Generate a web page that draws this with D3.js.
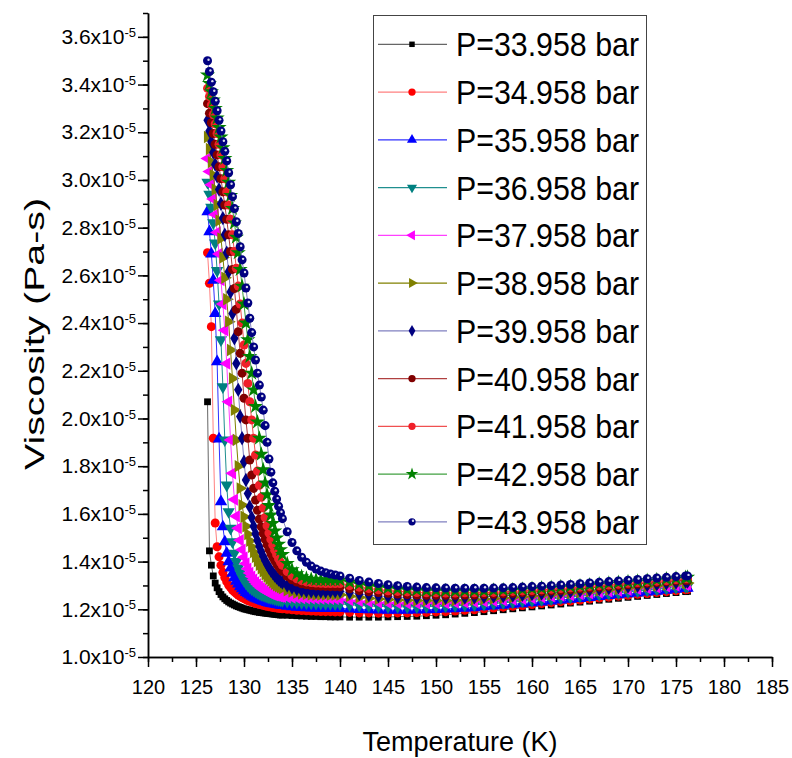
<!DOCTYPE html>
<html><head><meta charset="utf-8">
<script src="https://cdn.jsdelivr.net/npm/d3@7"></script>
<style>body{margin:0;background:#fff}svg{display:block}text{font-family:"Liberation Sans",Arial,sans-serif;fill:#000}</style>
</head><body><svg id="c" width="792" height="758"></svg>
<script>
// ---------- data (viscosity in units of 1e-5 Pa-s) ----------
const temps = [126.2,126.4,126.6,126.8,127.0,127.2,127.4,127.6,127.8,128.0,
128.2,128.4,128.6,128.8,129.0,129.2,129.4,129.6,129.8,130.0,
130.2,130.4,130.6,130.8,131.0,131.2,131.4,131.6,131.8,132.0,
132.2,132.4,132.6,132.8,133.0,133.2,133.4,133.6,133.8,134.0,
134.5,135,135.5,136,136.5,137,137.5,138,138.5,139,139.5,140,
141,142,143,144,145,146,147,148,149,150,
151,152,153,154,155,156,157,158,159,160,
161,162,163,164,165,166,167,168,169,170,
171,172,173,174,175,176,176.2];

const labels = ["P=33.958 bar","P=34.958 bar","P=35.958 bar","P=36.958 bar","P=37.958 bar","P=38.958 bar","P=39.958 bar","P=40.958 bar","P=41.958 bar","P=42.958 bar","P=43.958 bar"];

const mu33958 = [2.07,1.445,1.385,1.34,1.31,1.29,1.274,1.262,1.252,1.244,
1.237,1.231,1.226,1.222,1.218,1.214,1.211,1.208,1.205,1.202,
1.2,1.198,1.196,1.194,1.192,1.19,1.189,1.187,1.186,1.185,
1.184,1.183,1.182,1.181,1.18,1.179,1.178,1.177,1.176,1.176,
1.175,1.174,1.173,1.172,1.171,1.17,1.17,1.169,1.169,1.168,1.168,1.168,
1.167,1.167,1.167,1.167,1.168,1.169,1.17,1.171,1.173,1.175,
1.177,1.18,1.183,1.186,1.19,1.194,1.198,1.202,1.206,1.21,
1.214,1.218,1.222,1.226,1.23,1.234,1.238,1.242,1.246,1.25,
1.254,1.258,1.262,1.266,1.27,1.274,1.275];

const mu34958 = [2.695,2.567,2.385,1.917,1.562,1.462,1.42,1.385,1.355,1.333,
1.316,1.302,1.291,1.281,1.273,1.266,1.26,1.254,1.249,1.245,
1.241,1.237,1.234,1.231,1.228,1.225,1.223,1.221,1.219,1.217,
1.215,1.213,1.211,1.21,1.208,1.207,1.206,1.204,1.203,1.202,
1.2,1.198,1.196,1.195,1.194,1.193,1.192,1.191,1.19,1.19,1.189,1.189,
1.187,1.185,1.185,1.184,1.184,1.185,1.185,1.186,1.187,1.189,
1.19,1.193,1.196,1.198,1.202,1.205,1.209,1.213,1.216,1.22,
1.224,1.228,1.232,1.235,1.239,1.243,1.247,1.251,1.255,1.259,
1.263,1.266,1.27,1.274,1.278,1.282,1.283];

const mu35958 = [2.867,2.783,2.69,2.58,2.44,2.238,1.914,1.651,1.546,1.483,
1.435,1.40,1.373,1.351,1.333,1.318,1.306,1.295,1.286,1.278,
1.271,1.265,1.26,1.255,1.251,1.247,1.243,1.24,1.237,1.234,
1.232,1.229,1.227,1.225,1.223,1.222,1.22,1.219,1.217,1.216,
1.213,1.211,1.209,1.208,1.207,1.206,1.205,1.205,1.204,1.204,1.204,1.204,
1.201,1.199,1.198,1.197,1.196,1.196,1.196,1.197,1.198,1.199,
1.201,1.203,1.205,1.207,1.211,1.214,1.217,1.221,1.224,1.228,
1.231,1.235,1.239,1.242,1.246,1.25,1.254,1.258,1.261,1.265,
1.269,1.273,1.276,1.28,1.284,1.288,1.289];

const mu36958 = [2.99,2.94,2.885,2.82,2.735,2.62,2.48,2.33,2.133,1.91,
1.721,1.609,1.539,1.483,1.435,1.40,1.373,1.352,1.335,1.321,
1.31,1.30,1.292,1.286,1.28,1.275,1.27,1.266,1.262,1.259,
1.256,1.253,1.25,1.248,1.246,1.244,1.242,1.24,1.238,1.236,
1.233,1.231,1.229,1.228,1.227,1.226,1.225,1.225,1.224,1.224,1.223,1.223,
1.219,1.216,1.214,1.212,1.211,1.211,1.21,1.21,1.211,1.212,
1.213,1.215,1.217,1.219,1.221,1.224,1.227,1.23,1.234,1.237,
1.241,1.244,1.248,1.251,1.255,1.258,1.262,1.266,1.269,1.273,
1.277,1.28,1.284,1.288,1.291,1.295,1.296];

const mu37958 = [3.09,3.035,2.98,2.92,2.855,2.78,2.69,2.58,2.48,2.37,
2.23,2.07,1.91,1.77,1.66,1.59,1.54,1.49,1.45,1.418,
1.392,1.37,1.352,1.337,1.324,1.313,1.304,1.296,1.289,1.283,
1.278,1.273,1.269,1.265,1.262,1.259,1.257,1.255,1.253,1.252,
1.25,1.249,1.248,1.247,1.246,1.246,1.245,1.245,1.245,1.244,1.244,1.244,
1.239,1.235,1.232,1.229,1.227,1.226,1.225,1.225,1.225,1.226,
1.226,1.228,1.229,1.231,1.233,1.236,1.238,1.241,1.244,1.247,
1.251,1.254,1.257,1.26,1.264,1.267,1.271,1.275,1.278,1.282,
1.285,1.289,1.292,1.296,1.299,1.303,1.304];

const mu38958 = [3.18,3.13,3.075,3.02,2.96,2.895,2.83,2.755,2.675,2.59,
2.50,2.406,2.287,2.168,2.036,1.91,1.80,1.707,1.637,1.588,
1.548,1.515,1.487,1.462,1.44,1.42,1.402,1.386,1.372,1.359,
1.347,1.337,1.328,1.32,1.313,1.307,1.301,1.296,1.292,1.288,
1.28,1.274,1.269,1.266,1.264,1.262,1.261,1.261,1.261,1.261,1.261,1.261,
1.255,1.25,1.246,1.243,1.241,1.239,1.238,1.237,1.237,1.237,
1.237,1.238,1.24,1.241,1.243,1.245,1.248,1.25,1.253,1.256,
1.259,1.262,1.265,1.268,1.272,1.275,1.279,1.282,1.285,1.289,
1.292,1.296,1.299,1.303,1.306,1.31,1.31];

const mu39958 = [3.25,3.205,3.16,3.115,3.065,3.015,2.96,2.90,2.84,2.77,
2.695,2.615,2.53,2.44,2.336,2.231,2.12,2.008,1.917,1.819,
1.742,1.685,1.63,1.585,1.548,1.517,1.488,1.463,1.441,1.421,
1.404,1.389,1.375,1.363,1.352,1.342,1.333,1.325,1.318,1.312,
1.30,1.291,1.285,1.28,1.277,1.275,1.274,1.274,1.274,1.275,1.275,1.276,
1.27,1.264,1.26,1.256,1.253,1.251,1.249,1.248,1.247,1.247,
1.248,1.248,1.249,1.25,1.252,1.254,1.256,1.258,1.261,1.264,
1.266,1.269,1.272,1.275,1.279,1.282,1.285,1.289,1.292,1.295,
1.299,1.302,1.305,1.309,1.312,1.316,1.316];

const mu40958 = [3.32,3.28,3.24,3.195,3.15,3.105,3.055,3.005,2.95,2.895,
2.835,2.77,2.70,2.625,2.545,2.458,2.364,2.273,2.19,2.085,
1.994,1.917,1.826,1.763,1.707,1.658,1.615,1.578,1.546,1.518,
1.493,1.471,1.451,1.433,1.417,1.403,1.39,1.378,1.368,1.358,
1.338,1.324,1.314,1.307,1.303,1.30,1.298,1.297,1.296,1.295,1.295,1.294,
1.286,1.279,1.274,1.27,1.267,1.264,1.262,1.26,1.259,1.259,
1.259,1.259,1.26,1.26,1.262,1.263,1.265,1.267,1.27,1.272,
1.275,1.277,1.28,1.283,1.286,1.289,1.293,1.296,1.299,1.303,
1.306,1.309,1.312,1.316,1.319,1.322,1.322];

const mu41958 = [3.384,3.35,3.315,3.275,3.235,3.195,3.15,3.105,3.055,3.005,
2.95,2.895,2.835,2.77,2.70,2.63,2.555,2.48,2.40,2.308,
2.231,2.147,2.07,1.994,1.917,1.847,1.78,1.72,1.67,1.625,
1.585,1.55,1.52,1.493,1.469,1.448,1.429,1.412,1.397,1.384,
1.358,1.34,1.328,1.32,1.315,1.312,1.31,1.309,1.308,1.308,1.308,1.308,
1.30,1.293,1.287,1.282,1.278,1.275,1.273,1.27,1.269,1.269,
1.268,1.268,1.269,1.269,1.27,1.271,1.273,1.275,1.277,1.279,
1.282,1.284,1.287,1.29,1.293,1.296,1.299,1.302,1.305,1.309,
1.312,1.315,1.318,1.321,1.325,1.328,1.328];

const mu42958 = [3.44,3.405,3.37,3.335,3.30,3.26,3.22,3.18,3.135,3.09,
3.04,2.99,2.935,2.88,2.82,2.76,2.695,2.625,2.555,2.48,
2.40,2.33,2.26,2.19,2.12,2.05,1.985,1.917,1.85,1.785,
1.73,1.68,1.635,1.595,1.56,1.528,1.499,1.473,1.45,1.43,
1.392,1.366,1.349,1.337,1.33,1.326,1.324,1.323,1.323,1.323,1.323,1.323,
1.314,1.306,1.299,1.294,1.29,1.286,1.283,1.281,1.279,1.279,
1.278,1.277,1.278,1.278,1.278,1.28,1.281,1.282,1.284,1.287,
1.289,1.291,1.294,1.296,1.299,1.302,1.306,1.309,1.312,1.315,
1.318,1.321,1.324,1.327,1.33,1.333,1.334];

const mu43958 = [3.50,3.455,3.41,3.37,3.33,3.29,3.25,3.205,3.16,3.12,
3.08,3.03,2.98,2.93,2.88,2.825,2.776,2.72,2.665,2.61,
2.547,2.484,2.42,2.36,2.30,2.245,2.19,2.14,2.09,2.035,
1.97,1.90,1.83,1.775,1.73,1.695,1.662,1.632,1.605,1.58,
1.525,1.48,1.445,1.418,1.397,1.381,1.369,1.36,1.353,1.348,1.344,1.34,
1.33,1.321,1.314,1.308,1.303,1.299,1.296,1.293,1.291,1.29,
1.289,1.288,1.288,1.288,1.288,1.289,1.29,1.291,1.293,1.295,
1.297,1.299,1.302,1.304,1.307,1.31,1.313,1.316,1.319,1.322,
1.325,1.328,1.331,1.334,1.337,1.34,1.34];

const xTicks = [120,125,130,135,140,145,150,155,160,165,170,175,180,185];
const yTicks = [1.0,1.2,1.4,1.6,1.8,2.0,2.2,2.4,2.6,2.8,3.0,3.2,3.4,3.6];

const seriesValues = [mu33958,mu34958,mu35958,mu36958,mu37958,mu38958,mu39958,mu40958,mu41958,mu42958,mu43958];
const colors = ["#000000","#FF0000","#0000FF","#008080","#FF00FF","#808000","#000080","#800000","#F0202A","#008000","#000080"];
const lineColors = ["#666666","#FF8080","#3030FF","#208F8F","#FF40FF","#808000","#8080C0","#B04040","#F05050","#40A040","#8080C0"];
const shapes = ["square","circle","triUp","triDown","triLeft","triRight","diamond","circle","circle","star","sphere"];

// ---------- drawing ----------
const svg = d3.select("#c");
const x = d3.scaleLinear().domain([120,185]).range([148,772]);
const y = d3.scaleLinear().domain([1.0,3.7]).range([657,13]);

const symDef = {
  square:[d3.symbolSquare,46,0], circle:[d3.symbolCircle,64,0],
  triUp:[d3.symbolTriangle,66,0], triDown:[d3.symbolTriangle,66,180],
  triLeft:[d3.symbolTriangle,66,-90], triRight:[d3.symbolTriangle,66,90],
  diamond:[d3.symbolDiamond,60,0], star:[d3.symbolStar,72,0], sphere:[d3.symbolCircle,64,0]
};
const legSym = {square:30,circle:42,triUp:44,triDown:44,triLeft:44,triRight:44,diamond:40,star:50,sphere:42};

function drawMarker(sel, i, legend){
  const [t,s,r] = symDef[shapes[i]];
  const size = legend ? legSym[shapes[i]] : s;
  sel.append("path").attr("d", d3.symbol().type(t).size(size)()).attr("transform", `rotate(${r})`).attr("fill", colors[i]);
  if (shapes[i]==="sphere") sel.append("circle").attr("cx",1).attr("cy",-1).attr("r",1.2).attr("fill","#fff").attr("opacity",0.85);
}

const plot = svg.append("g");
const line = d3.line().x(d=>x(d[0])).y(d=>y(d[1]));
seriesValues.forEach((vals,i)=>{
  const data = temps.map((t,j)=>[t, vals[j]]);
  const g = plot.append("g");
  g.append("path").datum(data).attr("d", line).attr("fill","none").attr("stroke", lineColors[i]).attr("stroke-width",1);
  g.selectAll("g.m").data(data).join("g").attr("class","m")
    .attr("transform", d=>`translate(${x(d[0])},${y(d[1])})`)
    .each(function(){ drawMarker(d3.select(this), i, false); });
});

// axes
const axisG = svg.append("g");
const xMinor = d3.range(120,185.01,2.5);
const yMinor = d3.range(1.0,3.701,0.1);
axisG.append("g").attr("transform","translate(0,657)")
  .call(d3.axisBottom(x).tickValues(xMinor).tickSize(5).tickSizeOuter(0).tickFormat(""));
axisG.append("g").attr("transform","translate(0,657)")
  .call(d3.axisBottom(x).tickValues(xTicks).tickSize(10).tickSizeOuter(0).tickPadding(13).tickFormat(d3.format("d")))
  .call(g=>g.selectAll("text").attr("font-size",20).attr("font-family","Liberation Sans, Arial, sans-serif"));
axisG.append("g").attr("transform","translate(148,0)")
  .call(d3.axisLeft(y).tickValues(yMinor).tickSize(5).tickSizeOuter(0).tickFormat(""));
const yAx = axisG.append("g").attr("transform","translate(148,0)")
  .call(d3.axisLeft(y).tickValues(yTicks).tickSize(10).tickSizeOuter(0).tickPadding(2).tickFormat(d=>d.toFixed(1)+"x10"));
yAx.selectAll("text").attr("font-size",21).attr("font-family","Liberation Sans, Arial, sans-serif")
  .each(function(){ d3.select(this).append("tspan").attr("dy","-0.55em").attr("font-size",13).text("-5"); });
axisG.selectAll(".domain").attr("stroke","#000").attr("stroke-width",1.5);
axisG.selectAll(".tick line").attr("stroke","#000").attr("stroke-width",1.5);

// axis titles
svg.append("text").attr("x",460).attr("y",751).attr("text-anchor","middle").attr("font-size",27).text("Temperature (K)");
svg.append("text").attr("transform","translate(44,334) rotate(-90)").attr("text-anchor","middle").attr("font-size",28)
  .attr("textLength",272).attr("lengthAdjust","spacingAndGlyphs").text("Viscosity (Pa-s)");

// legend
const lg = svg.append("g");
lg.append("rect").attr("x",373.5).attr("y",15.5).attr("width",273).attr("height",529).attr("fill","#fff").attr("stroke","#444").attr("stroke-width",1);
labels.forEach((lab,k)=>{
  const cy = 44.3 + 47.75*k;
  const row = lg.append("g");
  row.append("line").attr("x1",378).attr("x2",447).attr("y1",cy).attr("y2",cy).attr("stroke",lineColors[k]).attr("stroke-width",1.2);
  drawMarker(row.append("g").attr("transform",`translate(412,${cy})`), k, true);
  row.append("text").attr("x",456).attr("y",cy+12).attr("font-size",33).attr("textLength",183).attr("lengthAdjust","spacingAndGlyphs").text(lab);
});
</script></body></html>
